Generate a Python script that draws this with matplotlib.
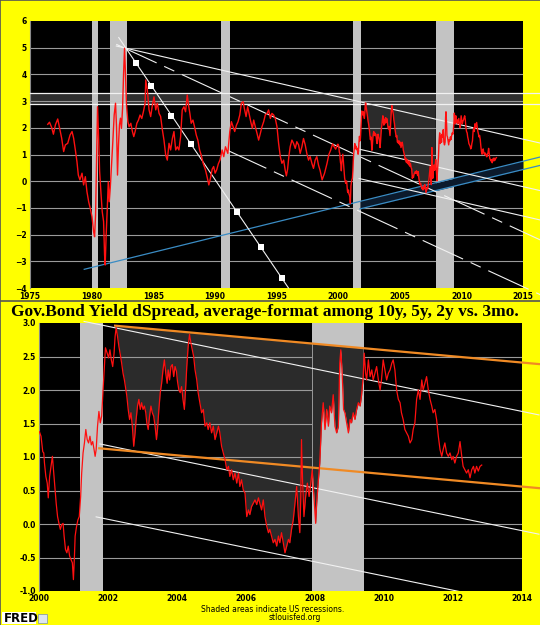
import numpy as np
import matplotlib
matplotlib.use('Agg')
import matplotlib.pyplot as plt
from matplotlib.lines import Line2D
from matplotlib.patches import Rectangle

plt.rcParams['lines.scale_dashes'] = False

# --------------------------------------------------------------------
# spread series (year, percent)
yrs_old = [1976.44, 1976.58, 1976.76, 1976.90, 1977.06, 1977.25, 1977.38, 1977.57, 1977.73, 1977.87,
           1978.06, 1978.25, 1978.41, 1978.54, 1978.68, 1978.81, 1978.92, 1979.05, 1979.22, 1979.35,
           1979.49, 1979.62, 1979.76, 1979.89, 1980.03, 1980.16, 1980.24, 1980.32, 1980.40, 1980.48,
           1980.56, 1980.65, 1980.75, 1980.86, 1980.97, 1981.05, 1981.10, 1981.18, 1981.27, 1981.35,
           1981.43, 1981.51, 1981.62, 1981.72, 1981.83, 1981.94, 1982.02, 1982.10, 1982.18, 1982.26,
           1982.34, 1982.42, 1982.51, 1982.59, 1982.67, 1982.75, 1982.83, 1982.94, 1983.04, 1983.18,
           1983.31, 1983.42, 1983.53, 1983.67, 1983.80, 1983.93, 1984.07, 1984.20, 1984.34, 1984.39,
           1984.52, 1984.66, 1984.79, 1984.93, 1985.06, 1985.20, 1985.33, 1985.47, 1985.60, 1985.74,
           1985.87, 1986.01, 1986.14, 1986.28, 1986.41, 1986.55, 1986.68, 1986.82, 1986.95, 1987.08,
           1987.22, 1987.35, 1987.49, 1987.62, 1987.76, 1987.84, 1987.97, 1988.08, 1988.22, 1988.35,
           1988.49, 1988.62, 1988.76, 1988.89, 1989.05, 1989.24, 1989.40, 1989.51, 1989.64, 1989.78,
           1989.90, 1990.02, 1990.15, 1990.28, 1990.42, 1990.59, 1990.72, 1990.86, 1991.05, 1991.21,
           1991.34, 1991.48, 1991.61, 1991.75, 1991.88, 1992.02, 1992.15, 1992.29, 1992.39, 1992.53,
           1992.66, 1992.77, 1992.91, 1993.04, 1993.15, 1993.28, 1993.42, 1993.55, 1993.69, 1993.82,
           1993.96, 1994.09, 1994.23, 1994.36, 1994.50, 1994.63, 1994.77, 1994.90, 1995.04, 1995.17,
           1995.31, 1995.44, 1995.58, 1995.71, 1995.80, 1995.90, 1996.00, 1996.11, 1996.25, 1996.38,
           1996.52, 1996.65, 1996.79, 1996.92, 1997.06, 1997.19, 1997.33, 1997.46, 1997.60, 1997.73,
           1997.87, 1998.00, 1998.14, 1998.27, 1998.41, 1998.54, 1998.70, 1998.90, 1999.10, 1999.25,
           1999.40, 1999.55, 1999.66, 1999.80, 1999.95]
spread_old = [2.13, 2.21, 2.01, 1.76, 2.11, 2.33, 2.04, 1.61, 1.11, 1.36,
              1.42, 1.73, 1.86, 1.61, 1.17, 0.73, 0.23, 0.05, 0.30, -0.14,
              0.17, -0.39, -0.77, -1.02, -1.33, -1.89, -2.08, -1.27, 0.73, 2.79,
              1.73, 0.36, -0.39, -1.14, -1.51, -2.76, -3.14, -2.01, -1.02, -0.02,
              -0.77, -0.27, 0.61, 1.48, 2.48, 2.92, 2.03, 0.23, 1.36, 2.11,
              2.36, 1.98, 2.73, 3.98, 4.98, 3.98, 2.85, 2.23, 2.04, 2.17,
              1.86, 1.67, 1.86, 2.17, 2.29, 2.48, 2.35, 2.60, 2.92, 3.79,
              3.42, 2.67, 2.42, 2.85, 3.16, 2.67, 2.92, 2.54, 2.42, 1.92,
              1.54, 0.98, 0.79, 1.42, 1.17, 1.60, 1.86, 1.17, 1.29, 1.17,
              1.67, 2.67, 2.79, 2.60, 3.23, 2.92, 2.54, 2.17, 2.29, 2.04,
              1.73, 1.54, 1.17, 0.98, 0.67, 0.42, 0.10, -0.14, 0.11, 0.45,
              0.55, 0.30, 0.43, 0.65, 0.80, 1.17, 0.92, 1.29, 1.04, 1.86,
              2.23, 2.04, 1.86, 2.10, 2.23, 2.48, 2.92, 2.98, 2.73, 2.42,
              2.79, 2.54, 2.23, 1.98, 2.29, 2.04, 1.79, 1.54, 1.79, 2.04,
              2.23, 2.48, 2.54, 2.67, 2.35, 2.54, 2.48, 2.35, 2.04, 1.42,
              0.92, 0.67, 0.79, 0.40, 0.20, 0.45, 0.92, 1.29, 1.54, 1.42,
              1.23, 1.48, 1.36, 1.04, 1.29, 1.60, 1.36, 1.04, 0.79, 0.92,
              0.67, 0.48, 0.79, 0.92, 0.60, 0.40, 0.05, 0.30, 0.67, 1.00,
              1.17, 1.40, 1.30, 1.20, 1.38]

yrs_new = [2000.00, 2000.05, 2000.10, 2000.13, 2000.15, 2000.19, 2000.23, 2000.26, 2000.30, 2000.34,
           2000.38, 2000.42, 2000.45, 2000.49, 2000.53, 2000.57, 2000.61, 2000.65, 2000.69, 2000.72,
           2000.76, 2000.80, 2000.84, 2000.88, 2000.92, 2000.96, 2000.99, 2001.02, 2001.04, 2001.08,
           2001.12, 2001.16, 2001.20, 2001.23, 2001.27, 2001.31, 2001.35, 2001.39, 2001.43, 2001.47,
           2001.51, 2001.55, 2001.59, 2001.62, 2001.65, 2001.69, 2001.73, 2001.77, 2001.81, 2001.85,
           2001.89, 2001.92, 2001.97, 2002.01, 2002.05, 2002.09, 2002.13, 2002.17, 2002.20, 2002.23,
           2002.27, 2002.31, 2002.35, 2002.39, 2002.43, 2002.47, 2002.50, 2002.54, 2002.58, 2002.62,
           2002.66, 2002.70, 2002.74, 2002.78, 2002.81, 2002.85, 2002.89, 2002.93, 2002.97, 2003.01,
           2003.05, 2003.09, 2003.12, 2003.16, 2003.20, 2003.24, 2003.28, 2003.32, 2003.36, 2003.40,
           2003.43, 2003.47, 2003.51, 2003.55, 2003.59, 2003.63, 2003.67, 2003.71, 2003.74, 2003.78,
           2003.82, 2003.86, 2003.90, 2003.94, 2003.98, 2004.01, 2004.05, 2004.09, 2004.13, 2004.17,
           2004.21, 2004.25, 2004.28, 2004.32, 2004.36, 2004.40, 2004.44, 2004.48, 2004.52, 2004.57,
           2004.61, 2004.66, 2004.71, 2004.76, 2004.81, 2004.86, 2004.90, 2004.95, 2005.00, 2005.05,
           2005.10, 2005.15, 2005.20, 2005.24, 2005.29, 2005.34, 2005.39, 2005.44, 2005.49, 2005.53,
           2005.58, 2005.63, 2005.68, 2005.73, 2005.78, 2005.82, 2005.87, 2005.92, 2005.97, 2006.02,
           2006.07, 2006.11, 2006.16, 2006.21, 2006.26, 2006.31, 2006.36, 2006.40, 2006.45, 2006.50,
           2006.55, 2006.60, 2006.65, 2006.69, 2006.74, 2006.79, 2006.84, 2006.89, 2006.94, 2006.98,
           2007.03, 2007.08, 2007.13, 2007.18, 2007.23, 2007.27, 2007.32, 2007.37, 2007.42, 2007.47,
           2007.52, 2007.56, 2007.59, 2007.61, 2007.64, 2007.68, 2007.73, 2007.78, 2007.83, 2007.87,
           2007.92, 2007.97, 2008.02, 2008.05, 2008.10, 2008.14, 2008.19, 2008.24, 2008.29, 2008.34,
           2008.39, 2008.43, 2008.48, 2008.53, 2008.58, 2008.63, 2008.68, 2008.72, 2008.75, 2008.79,
           2008.83, 2008.87, 2008.92, 2008.97, 2009.02, 2009.06, 2009.11, 2009.16, 2009.21, 2009.26,
           2009.31, 2009.35, 2009.40, 2009.43, 2009.47, 2009.50, 2009.55, 2009.60, 2009.65, 2009.69,
           2009.74, 2009.79, 2009.84, 2009.89, 2009.93, 2009.98, 2010.03, 2010.08, 2010.13, 2010.18,
           2010.23, 2010.27, 2010.32, 2010.37, 2010.42, 2010.47, 2010.51, 2010.56, 2010.61, 2010.66,
           2010.71, 2010.76, 2010.81, 2010.85, 2010.90, 2010.95, 2011.00, 2011.05, 2011.10, 2011.14,
           2011.19, 2011.24, 2011.29, 2011.34, 2011.39, 2011.43, 2011.48, 2011.53, 2011.58, 2011.63,
           2011.68, 2011.72, 2011.77, 2011.82, 2011.87, 2011.92, 2011.97, 2012.01, 2012.06, 2012.11,
           2012.16, 2012.21, 2012.26, 2012.30, 2012.35, 2012.40, 2012.45, 2012.50, 2012.55, 2012.60,
           2012.64, 2012.69, 2012.74, 2012.79, 2012.84]
spread_new = [1.38, 1.31, 1.08, 1.06, 0.91, 0.71, 0.61, 0.39, 0.71, 0.86,
              1.01, 0.76, 0.56, 0.31, 0.11, 0.01, -0.08, -0.01, 0.01, -0.18,
              -0.38, -0.43, -0.33, -0.48, -0.53, -0.58, -0.83, -0.48, -0.18, -0.04,
              0.06, 0.11, 0.41, 0.76, 1.06, 1.21, 1.41, 1.26, 1.21, 1.31,
              1.18, 1.23, 1.11, 1.01, 1.11, 1.46, 1.68, 1.51, 1.61, 2.00,
              2.35, 2.63, 2.55, 2.48, 2.60, 2.45, 2.35, 2.55, 2.80, 2.93,
              2.80, 2.65, 2.53, 2.40, 2.25, 2.15, 2.05, 1.91, 1.71, 1.56,
              1.66, 1.46, 1.16, 1.36, 1.56, 1.76, 1.86, 1.71, 1.81, 1.71,
              1.76, 1.66, 1.51, 1.41, 1.61, 1.76, 1.66, 1.61, 1.46, 1.26,
              1.41, 1.71, 1.96, 2.10, 2.30, 2.45, 2.25, 2.10, 2.30, 2.15,
              2.35, 2.38, 2.20, 2.35, 2.28, 2.13, 2.00, 1.96, 2.05, 1.86,
              1.71, 2.05, 2.35, 2.65, 2.83, 2.70, 2.60, 2.50, 2.30, 2.15,
              1.96, 1.81, 1.66, 1.71, 1.46, 1.51, 1.41, 1.51, 1.36, 1.46,
              1.26, 1.36, 1.46, 1.36, 1.16, 1.06, 0.96, 0.81, 0.86, 0.71,
              0.81, 0.66, 0.76, 0.61, 0.76, 0.56, 0.66, 0.51, 0.46, 0.11,
              0.21, 0.14, 0.26, 0.31, 0.36, 0.29, 0.39, 0.31, 0.21, 0.36,
              0.11, -0.03, -0.13, -0.08, -0.18, -0.28, -0.23, -0.33, -0.18, -0.28,
              -0.13, -0.28, -0.43, -0.33, -0.23, -0.28, -0.08, 0.06, 0.31, 0.56,
              0.11, -0.13, 0.41, 1.26, 0.66, 0.11, 0.41, 0.61, 0.41, 0.56,
              0.81, 0.41, 0.01, 0.31, 0.66, 0.91, 1.51, 1.81, 1.41, 1.71,
              1.46, 1.76, 1.66, 1.93, 1.46, 1.36, 1.46, 2.40, 2.60, 2.25,
              1.71, 1.66, 1.51, 1.36, 1.56, 1.51, 1.66, 1.56, 1.71, 1.81,
              1.76, 1.91, 2.20, 2.55, 2.25, 2.15, 2.45, 2.20, 2.30, 2.15,
              2.25, 2.35, 2.15, 2.00, 2.15, 2.45, 2.30, 2.15, 2.25, 2.30,
              2.40, 2.45, 2.30, 2.00, 1.86, 1.81, 1.66, 1.56, 1.41, 1.36,
              1.31, 1.21, 1.26, 1.41, 1.51, 1.86, 2.00, 1.86, 2.15, 2.00,
              2.10, 2.20, 2.00, 1.86, 1.76, 1.66, 1.71, 1.56, 1.31, 1.11,
              1.01, 1.11, 1.21, 1.06, 1.01, 1.06, 0.96, 1.01, 0.91, 1.01,
              1.06, 1.23, 1.01, 0.86, 0.81, 0.76, 0.81, 0.69, 0.81, 0.86,
              0.76, 0.86, 0.79, 0.86, 0.88]

# US recessions
rec_start = [1980.0, 1981.5, 1990.5, 2001.17, 2007.92]
rec_end = [1980.5, 1982.85, 1991.2, 2001.85, 2009.42]

# hand drawn trend lines: (anchor year, value, slope per year)
line_a = (1982.6, 5.0, -0.1057)        # long solid white line from the 1982 peak
line_b = (1982.6, 5.0, -0.213)         # dash-dot white line from the peak
line_s = (1983.58, 4.44, -0.681)       # steep line with squares
blue_up = (1979.4, -3.30, 0.1137)
blue_lo = (2001.93, -1.02, 0.1115)
orange_up = (2002.2, 2.96, -0.0466)
orange_lo = (2001.74, 1.13, -0.0466)
off_l2, off_l3, off_b2 = -1.78, -2.88, -2.05
sq_x = [1983.58, 1984.85, 1986.47, 1988.03, 1991.8, 1993.77, 1995.44]
sq_y = [4.44, 3.57, 2.45, 1.39, -1.17, -2.48, -3.64]
band_lo, band_hi = 2.88, 3.3

years = np.array(yrs_old + yrs_new)
spread = np.array(spread_old + spread_new)


def trend(ln, x, off=0.0):
    x = np.asarray(x, dtype=float)
    return ln[1] + ln[2] * (x - ln[0]) + off


WHITE = '#f2f2f2'
GRID = '#9a9a9a'
REC = '#c3c3c3'
FILL = '#2b2b2b'
RED = '#ff1010'
ORANGE = '#f08a24'
BLUE = '#3a8cc4'

fig = plt.figure(figsize=(5.4, 6.25), dpi=100, facecolor='#ffff00')
ax1 = fig.add_axes([30 / 540, 1 - 288 / 625, 493 / 540, 267 / 625])
ax2 = fig.add_axes([39.3 / 540, 34 / 625, 482.4 / 540, 268 / 625])

for ax in (ax1, ax2):
    ax.set_facecolor('black')
    for sp in ax.spines.values():
        sp.set_visible(False)
    ax.spines['left'].set_visible(True)
    ax.spines['left'].set_color('#8a8a8a')
    ax.tick_params(length=0, labelsize=5.5, pad=2.5, colors='black')
    for s, e in zip(rec_start, rec_end):
        ax.axvspan(s, e, color=REC, lw=0, zorder=2.4)

# --------------------------------------------------------------------
# top panel
ax1.set_xlim(1975, 2015)
ax1.set_ylim(-4, 6)
ax1.axhspan(band_lo, band_hi, color='#2e2e2e', lw=0, zorder=1)
ax1.hlines(range(-3, 6), 1975, 2015, colors=GRID, lw=0.8, zorder=2.2)

m = (years >= 2002.1) & (years <= 2007.92)
ax1.fill_between(years[m], spread[m], band_lo, where=spread[m] < band_lo,
                 interpolate=True, color=FILL, lw=0, zorder=2)

xe = 2016.4
for yv in (band_lo, band_hi):
    ax1.plot([1975, xe], [yv, yv], color=WHITE, lw=0.9, clip_on=False, zorder=3)

xb = np.array([2001.77, 2015])
ax1.fill_between(xb, trend(blue_lo, xb), trend(blue_up, xb), color='#0b1a2c', lw=0, zorder=2.7)
xu = np.array([blue_up[0], xe])
ax1.plot(xu, trend(blue_up, xu), color=BLUE, lw=0.9, clip_on=False, zorder=3)
xl = np.array([2001.77, xe])
ax1.plot(xl, trend(blue_lo, xl), color=BLUE, lw=0.9, clip_on=False, zorder=3)

xa = np.array([1982.0, xe])
ax1.plot(xa, trend(line_a, xa), color=WHITE, lw=0.8, clip_on=False, zorder=3.2)
xp = np.array([2001.7, xe])
ax1.plot(xp, trend(line_a, xp, off_l2), color=WHITE, lw=0.8, clip_on=False, zorder=3.2)
ax1.plot(xp, trend(line_a, xp, off_l3), color=WHITE, lw=0.8, clip_on=False, zorder=3.2)

dashdot = (0, (32, 6, 8, 6))
ax1.plot(xa, trend(line_b, xa), color=WHITE, lw=0.8, ls=dashdot, clip_on=False, zorder=3.2)
xb2 = np.array([1990.9, xe])
ax1.plot(xb2, trend(line_b, xb2, off_b2), color=WHITE, lw=0.8, ls=dashdot, clip_on=False, zorder=3.2)

xs_end = line_s[0] + (-4 - line_s[1]) / line_s[2]
xs = np.array([1982.2, xs_end])
ax1.plot(xs, trend(line_s, xs), color=WHITE, lw=0.8, clip_on=False, zorder=3.2)
ax1.plot(sq_x, sq_y, 's', color='white', ms=3.8, mew=0, zorder=3.3)

ax1.plot(years, spread, color=RED, lw=1.0, zorder=5)

ax1.set_xticks(range(1975, 2016, 5))
ax1.set_yticks(range(-4, 7))
ax1.tick_params(axis='x', pad=3)

# --------------------------------------------------------------------
# bottom panel
ax2.set_xlim(2000, 2014)
ax2.set_ylim(-1, 3)
gy = np.arange(-0.5, 3.0, 0.5)
ax2.hlines(gy, 2000, 2014, colors=GRID, lw=0.8, zorder=2.2)

m1 = (years >= 2002.23) & (years <= 2007.92)
ax2.fill_between(years[m1], spread[m1], trend(orange_up, years[m1]),
                 color=FILL, lw=0, zorder=2)
m2 = (years >= 2007.92) & (years <= 2009.42)
ax2.fill_between(years[m2], spread[m2], trend(orange_up, years[m2]),
                 color=FILL, lw=0, zorder=2.6)

xo = np.array([orange_up[0], 2014.5])
ax2.plot(xo, trend(orange_up, xo), color=ORANGE, lw=1.6, clip_on=False, zorder=3.5)
xo2 = np.array([orange_lo[0], 2014.5])
ax2.plot(xo2, trend(orange_lo, xo2), color=ORANGE, lw=1.6, clip_on=False, zorder=3.5)

xw = np.array([2001.3, 2014.5])
ax2.plot(xw, trend(line_a, xw), color=WHITE, lw=0.8, clip_on=False, zorder=3.2)
xw2 = np.array([2001.76, 2014.5])
ax2.plot(xw2, trend(line_a, xw2, off_l2), color=WHITE, lw=0.8, clip_on=False, zorder=3.2)
xw3 = np.array([2001.65, 2014])
ax2.plot(xw3, trend(line_a, xw3, off_l3), color=WHITE, lw=0.8, zorder=3.2)

ax2.plot(years, spread, color=RED, lw=0.9, zorder=5)

ax2.set_xticks(range(2000, 2015, 2))
ax2.set_yticks(np.arange(-1.0, 3.01, 0.5))
ax2.set_yticklabels(['%.1f' % v for v in np.arange(-1.0, 3.01, 0.5)])

for ax in (ax1, ax2):
    for lab in ax.get_xticklabels() + ax.get_yticklabels():
        lab.set_fontweight('bold')

# --------------------------------------------------------------------
# titles, footer, frame
fig.text(265 / 540, 1 - 312 / 625, 'Gov.Bond Yield dSpread, average-format among 10y, 5y, 2y vs. 3mo.',
         ha='center', va='center', fontsize=12.5, fontweight='bold', family='Liberation Serif')
fig.text(273 / 540, 1 - 609 / 625, 'Shaded areas indicate US recessions.',
         ha='center', va='center', fontsize=5.5)
fig.text(295 / 540, 1 - 618 / 625, 'stlouisfed.org', ha='center', va='center', fontsize=5.5)
fig.add_artist(Rectangle((2 / 540, 1 - 624 / 625), 34 / 540, 12 / 625,
                         transform=fig.transFigure, facecolor='white', edgecolor='none'))
fig.text(4 / 540, 1 - 618 / 625, 'FRED', ha='left', va='center', fontsize=8.5,
         fontweight='bold', family='DejaVu Sans')
fig.add_artist(Rectangle((38 / 540, 1 - 623 / 625), 9 / 540, 9 / 625,
                         transform=fig.transFigure, facecolor='#dde6ee', edgecolor='#7890a8', lw=0.5))

for xy in (([0, 1], [1, 1]), ([0, 0], [0, 1]), ([0, 1], [1 - 301.5 / 625] * 2)):
    fig.add_artist(Line2D(xy[0], xy[1], transform=fig.transFigure, color='#555555', lw=1.2))

fig.savefig('out.png', dpi=100, facecolor=fig.get_facecolor())
